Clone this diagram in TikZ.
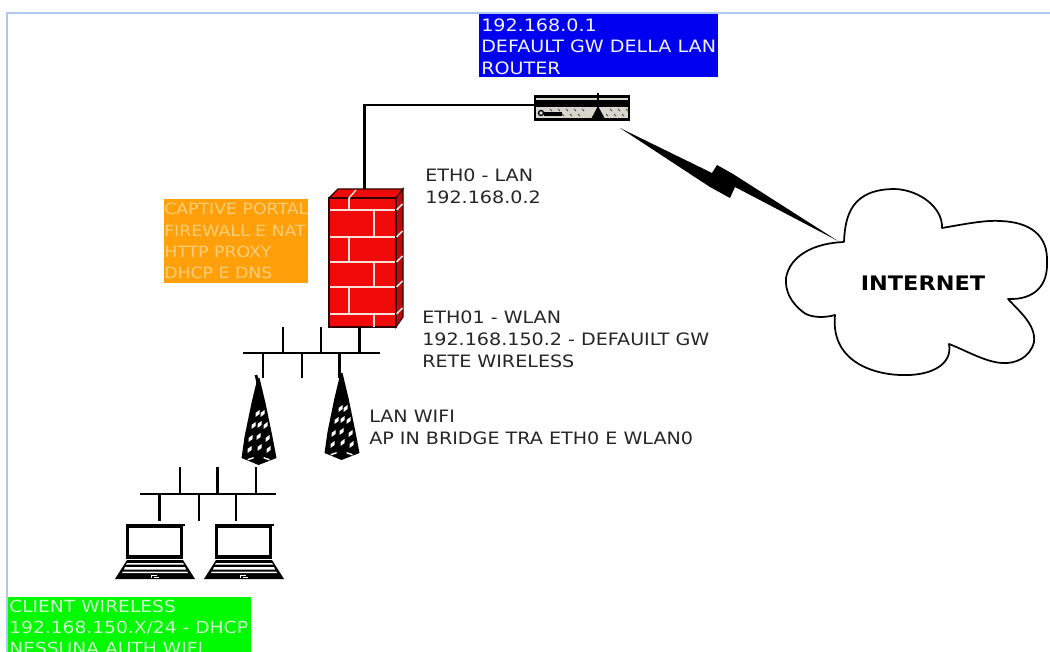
\documentclass[tikz,border=0pt]{standalone}
\usepackage{fontspec}
\setmainfont[FakeStretch=1.12]{DejaVu Sans}
\definecolor{framec}{RGB}{175,200,240}
\definecolor{bluebox}{RGB}{0,0,240}
\definecolor{orangebox}{RGB}{255,160,10}
\definecolor{orangetext}{RGB}{255,205,120}
\definecolor{greenbox}{RGB}{0,250,0}
\definecolor{greentext}{RGB}{205,255,205}
\definecolor{brick}{RGB}{240,10,10}
\definecolor{brickdark}{RGB}{190,10,10}
\definecolor{mortar}{RGB}{250,225,215}
\definecolor{routergrey}{RGB}{215,215,205}
\tikzset{
  x=0.75pt,y=-0.75pt,
  label text/.style={anchor=north west,inner sep=0pt,align=left,text=black!85,font=\fontsize{12.8}{16.4}\selectfont},
  box text/.style={anchor=north west,inner sep=0pt,align=left,font=\fontsize{12.8}{16}\selectfont},
  wire/.style={draw=black,line width=1.9pt},
  thin wire/.style={draw=black,line width=1.9pt},
  pics/tower/.style={code={
    \fill[black] (-1,-87) -- (1,-87) -- (7,-62) -- (14,-28) -- (18,-7) -- (0,0) -- (-17,-7) -- (-14,-28) -- (-7,-62) -- cycle;
    \foreach \a/\b in {-3/-52,2/-52,-7/-40,-1/-41,5/-40,-10/-27,-2/-29,7/-27,-11/-16,-1/-18,8/-16}{
      \fill[white] (\a,\b) -- ++(4,-3) -- ++(0,4) -- ++(-4,3) -- cycle;
    }
    \fill[white] (-11,-6) -- (-5,-8) -- (-5,-6.5) -- (-11,-4.5) -- cycle;
    \fill[white] (5,-8) -- (11,-6) -- (11,-4.5) -- (5,-6.5) -- cycle;
  }},
  pics/laptop/.style={code={
    \draw[black,line width=2.4pt,fill=white] (1.5,1.5) rectangle (55.5,32);
    \draw[black,line width=0.9pt] (0,0) -- (59,0);
    \fill[black] (-11,54) -- (1,35) -- (57,35) -- (69,54) -- cycle;
    \fill[white] (1,38) -- (57,38) -- (58,39.5) -- (0,39.5) -- cycle;
    \fill[white] (-1,42) -- (59,42) -- (60,44.5) -- (-2,44.5) -- cycle;
    \fill[white] (-3,46.5) -- (61,46.5) -- (62,48) -- (-4,48) -- cycle;
    \draw[white,line width=0.5pt] (25,50.5) -- (31,50.5) (25,50.5) -- (25,52.5) (28,52.5) -- (33,52.5);
  }},
}
\begin{document}
\begin{tikzpicture}
\useasboundingbox (0,0) rectangle (1050,652);
\clip (0,0) rectangle (1050,652);
\fill[white] (0,0) rectangle (1050,652);
% page frame
\draw[framec,line width=1.5pt] (1050,13) -- (7,13) -- (7,652);

% colored boxes
\fill[bluebox] (479,14) rectangle (718,77);
\fill[orangebox] (164,199) rectangle (308,283);
\fill[greenbox] (8,597) rectangle (251,660);
\node[box text,text=white!95!blue] (gwtext) at (481,18.5) {192.168.0.1\\DEFAULT GW DELLA LAN\\ROUTER};
\node[box text,text=orangetext,font=\fontsize{11.6}{16}\selectfont] (captive) at (164,203) {CAPTIVE PORTAL\\FIREWALL E NAT\\HTTP PROXY\\DHCP E DNS};
\node[box text,text=greentext,font=\fontsize{12.5}{15.6}\selectfont] (clienttext) at (9,600) {CLIENT WIRELESS\\192.168.150.X/24 - DHCP\\NESSUNA AUTH WIFI};

% router
\node[inner sep=0pt,outer sep=0pt,minimum width=72pt,minimum height=19.5pt,fill=black] (router) at (582,108) {};
\fill[routergrey] (536,107.5) rectangle (628,118);
\fill[routergrey] (536,98) rectangle (628,100);
\foreach \p in {550,558,566,574,582,610,618,626}{
  \draw[black!70,line width=0.6pt] (\p,109) -- ++(2,2) (\p-4,114) -- ++(2,2);
}
\draw[black,line width=1pt] (541,113) circle (2.5);
\fill[black] (544,112) rectangle (562,116);
\fill[black] (598,106) -- (605,119) -- (591,119) -- cycle;
\draw[black,line width=0.8pt] (598,93) -- (598,108);

% cable router-firewall
\node[inner sep=0pt,outer sep=0pt,minimum width=50.25pt,minimum height=96.75pt] (firewall) at (362.5,262.5) {};
\draw[wire] (router.west |- 0,105) -- (364.5,105) -- (364.5,189);

% firewall
\fill[brick,draw=black!80!red,line width=0.9pt] (329,198) -- (338,189) -- (403,189) -- (396,198) -- cycle;
\fill[brickdark,draw=black!80!red,line width=0.9pt] (396,198) -- (403,189) -- (403,317) -- (396,327) -- cycle;
\fill[brick,draw=black!80!red,line width=0.9pt] (329,198) rectangle (396,327);
\begin{scope}[mortar,line width=1.1pt]
  \foreach \yy in {210,237,262,287,314} \draw (330,\yy) -- (395,\yy);
  \foreach \xx/\ya/\yb in {349/198/210,374/210/237,349/237/262,374/262/287,349/287/314,374/314/327}
    \draw (\xx,\ya) -- (\xx,\yb);
  \draw (349,198) -- (356,190);
  \foreach \yy in {210,237,262,287,314} \draw (396.5,\yy) -- (402.5,\yy-6);
\end{scope}

% upper bus
\coordinate (busA1) at (243,353);
\coordinate (busA2) at (380,353);
\draw[thin wire] (busA1) -- (busA2);
\foreach \xx in {283,321}{ \draw[thin wire] (\xx,327) -- (\xx,353); }
\draw[thin wire] (firewall.south -| 359.5,0) -- (359.5,353);
\foreach \xx in {263,302,339.5}{ \draw[thin wire] (\xx,353) -- (\xx,378); }

% towers
\pic (towerA) at (258.5,465) {tower};
\pic (towerB) at (341.5,460) {tower};
\coordinate (towerAtop) at (256,375);
\draw[black,line width=2pt] (towerAtop) -- (259,388);

% lower bus
\coordinate (busB1) at (140,494);
\coordinate (busB2) at (276,494);
\draw[thin wire] (busB1) -- (busB2);
\foreach \xx in {180,217.5,256}{ \draw[thin wire] (\xx,467) -- (\xx,494); }
\foreach \xx in {159.5,199,236}{ \draw[thin wire] (\xx,494) -- (\xx,521); }

% laptops
\pic (laptopA) at (126,525) {laptop};
\pic (laptopB) at (215,525) {laptop};

% cloud
\coordinate (cloudport) at (838,241);
\draw[black,line width=1.3pt,line join=round] (844,242)
  .. controls (845,215) and (852,189) .. (895,189)
  .. controls (920,190) and (943,208) .. (942,228)
  .. controls (965,224) and (985,220) .. (1000,221)
  .. controls (1030,222) and (1048,235) .. (1047,262)
  .. controls (1048,285) and (1035,300) .. (1008,299)
  .. controls (1020,312) and (1036,325) .. (1034,342)
  .. controls (1030,358) and (1015,364) .. (1002,363)
  .. controls (985,362) and (965,350) .. (949,344)
  .. controls (953,365) and (930,375) .. (907,375)
  .. controls (880,376) and (830,365) .. (835,315)
  .. controls (825,318) and (810,318) .. (803,312)
  .. controls (790,302) and (785,290) .. (786,278)
  .. controls (790,255) and (815,243) .. (844,242);
\node[inner sep=0pt] (internet) at (923,283) {\fontsize{15}{17}\selectfont\bfseries INTERNET};

% lightning bolt
\fill[black] (620,128) -- (712,173) -- (717,165) -- (733,174) -- (cloudport) -- (735,187) -- (730,198) -- (710,187) -- cycle;

% labels
\node[label text] (eth0) at (425,168.5) {ETH0 - LAN\\192.168.0.2};
\node[label text] (eth01) at (422,311) {ETH01 - WLAN\\192.168.150.2 - DEFAUILT GW\\RETE WIRELESS};
\node[label text] (lanwifi) at (369,410) {LAN WIFI\\AP IN BRIDGE TRA ETH0 E WLAN0};
\end{tikzpicture}
\end{document}
